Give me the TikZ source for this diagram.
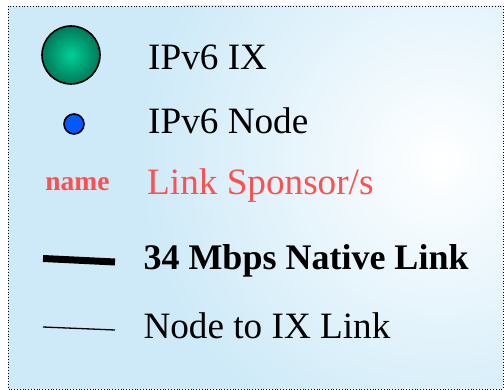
\documentclass[tikz,border=0pt]{standalone}
\usepackage{fontspec}
\setmainfont{Liberation Serif}
\definecolor{bgblue}{RGB}{206,234,248}
\definecolor{ixgreen}{RGB}{0,208,150}
\definecolor{ixdark}{RGB}{0,120,88}
\definecolor{nodeblue}{RGB}{0,88,255}
\definecolor{sponsorred}{RGB}{255,80,80}
\tikzset{
  legtext/.style={anchor=base west, inner sep=0pt, font=\fontsize{37.2}{40}\selectfont},
  ixdot/.style={circle, draw=black, line width=1.6pt, minimum size=58pt, inner sep=0pt, inner color=ixgreen, outer color=ixdark},
  nodedot/.style={circle, draw=black, line width=1.6pt, fill=nodeblue, minimum size=20pt, inner sep=0pt}
}
\begin{document}
\begin{tikzpicture}[x=1pt, y=-1pt, line join=round]
	\useasboundingbox (0,0) rectangle (504,390);
	\path	(8,6) coordinate (F1)
		(503,389) coordinate (F2)
		(43,258.5) coordinate (A)
		(115,262) coordinate (B)
		(43,327) coordinate (C)
		(115,330) coordinate (D);
	% background of the legend
	\begin{scope}
		\clip (F1) rectangle (F2);
		\fill[bgblue] (F1) rectangle (F2);
		\shade[inner color=white, outer color=bgblue] (440,160) circle (300);
	\end{scope}
	\draw[dotted, line width=0.8pt] (F1) rectangle (F2);
	% symbols
	\node[ixdot] (ix) at (71,55) {};
	\node[nodedot] (nd) at (74,124) {};
	\node[anchor=base, inner sep=0pt, text=sponsorred, font=\fontsize{27.5}{30}\selectfont\bfseries] (nm) at (77.5,191) {name};
	\draw[line width=7pt] (A)--(B);
	\draw[line width=1.3pt] (C)--(D);
	% labels
	\foreach \n/\y/\t in {l1/69.3/IPv6 IX, l2/133.3/IPv6 Node}  \node[legtext] (\n) at (148,\y) {\t};
	\node[legtext, text=sponsorred] (l3) at (147,195) {Link Sponsor/s};
	\node[legtext, font=\fontsize{36}{40}\selectfont\bfseries] (l4) at (143.3,270) {34 Mbps Native Link};
	\node[legtext] (l5) at (143.3,339) {Node to IX Link};
\end{tikzpicture}
\end{document}
